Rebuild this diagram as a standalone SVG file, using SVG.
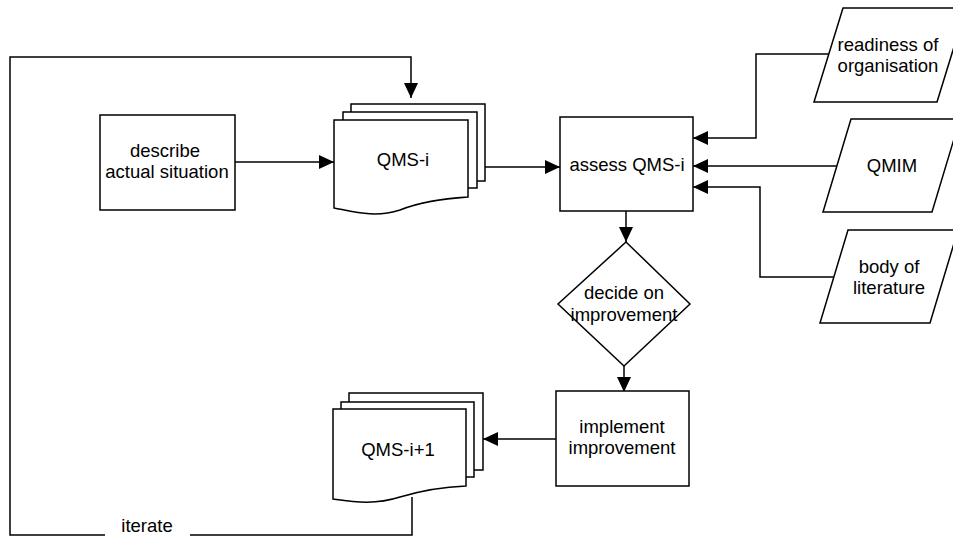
<svg xmlns="http://www.w3.org/2000/svg" width="953" height="537" viewBox="0 0 953 537">
<defs>
<marker id="ah" viewBox="0 0 15 14" refX="15" refY="7" markerWidth="15" markerHeight="14" markerUnits="userSpaceOnUse" orient="auto">
<path d="M0,0 L15,7 L0,14 Z" fill="#000"/>
</marker>
<style>
.s{fill:#fff;stroke:#000;stroke-width:1.5}
.c{fill:none;stroke:#000;stroke-width:1.5}
.t{font-family:"Liberation Sans",Arial,sans-serif;font-size:18.5px;fill:#000;text-anchor:middle}
</style>
</defs>
<rect width="953" height="537" fill="#fff"/>
<g id="connectors">
<path class="c" d="M105,535 H10 V57 H411 V98" marker-end="url(#ah)"/>
<path class="c" d="M190,535 H412 V497"/>
<path class="c" d="M235,162 H334" marker-end="url(#ah)"/>
<path class="c" d="M485,167 H560" marker-end="url(#ah)"/>
<path class="c" d="M829,54 H756 V138 H693" marker-end="url(#ah)"/>
<path class="c" d="M837,166 H693" marker-end="url(#ah)"/>
<path class="c" d="M834,277 H760 V187 H693" marker-end="url(#ah)"/>
<path class="c" d="M626,211 V242" marker-end="url(#ah)"/>
<path class="c" d="M624,366 V392" marker-end="url(#ah)"/>
<path class="c" d="M556,439 H483" marker-end="url(#ah)"/>
</g>
<g id="describe">
<rect class="s" x="100" y="115" width="135" height="95"/>
<text class="t" x="165" y="157">describe</text>
<text class="t" x="167" y="178">actual situation</text>
</g>
<g id="qms-i">
<rect class="s" x="351" y="104" width="134" height="77"/>
<rect class="s" x="343" y="112" width="134" height="76"/>
<path class="s" d="M334,120 H468 V197 C440,199 420,202 400,210 C375,218 355,212 334,208 Z"/>
<text class="t" x="403" y="166">QMS-i</text>
</g>
<g id="assess">
<rect class="s" x="560" y="117" width="133" height="94"/>
<text class="t" x="627" y="171">assess QMS-i</text>
</g>
<g id="readiness">
<polygon class="s" points="843,8 966,8 937,102 814,102"/>
<text class="t" x="888" y="51">readiness of</text>
<text class="t" x="888" y="72">organisation</text>
</g>
<g id="qmim">
<polygon class="s" points="851,119 960,119 932,212 823,212"/>
<text class="t" x="892" y="172">QMIM</text>
</g>
<g id="body">
<polygon class="s" points="848,230 958,230 930,323 820,323"/>
<text class="t" x="889" y="273">body of</text>
<text class="t" x="889" y="294">literature</text>
</g>
<g id="decide">
<polygon class="s" points="626,242 690,304 624,366 558,304"/>
<text class="t" x="624" y="299">decide on</text>
<text class="t" x="624" y="321">improvement</text>
</g>
<g id="implement">
<rect class="s" x="556" y="391" width="133" height="95"/>
<text class="t" x="622" y="433">implement</text>
<text class="t" x="622" y="454">improvement</text>
</g>
<g id="qms-i1">
<rect class="s" x="349" y="393" width="134" height="77"/>
<rect class="s" x="341" y="402" width="133" height="75"/>
<path class="s" d="M333,409 H466 V486 C440,487 420,491 400,497 C375,505 355,502 333,499 Z"/>
<text class="t" x="398" y="456">QMS-i+1</text>
</g>
<g id="iterate">
<text class="t" x="147" y="532">iterate</text>
</g>
</svg>
